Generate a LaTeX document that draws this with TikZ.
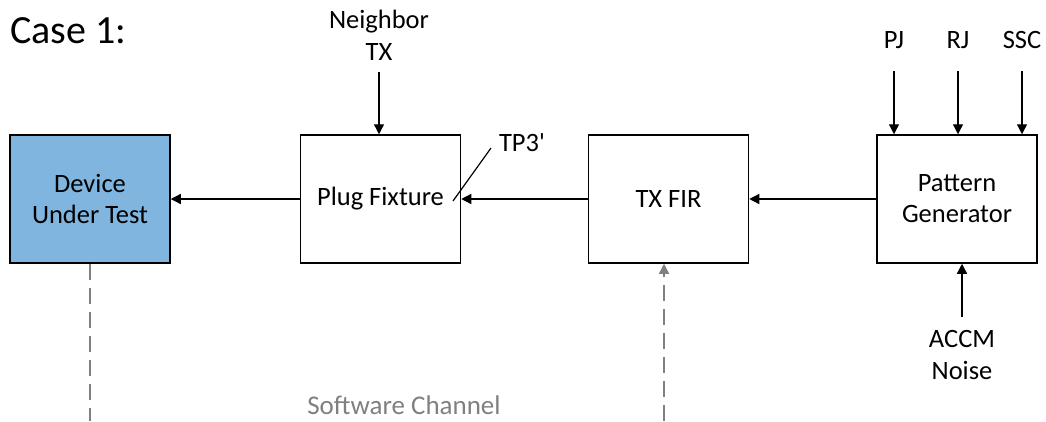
\documentclass[tikz,border=0pt]{standalone}
\usepackage{fontspec}
\setmainfont{Carlito}
\usetikzlibrary{arrows.meta}
\definecolor{dutblue}{RGB}{127,181,222}
\begin{document}
\begin{tikzpicture}[x=1pt,y=-1pt,
 box/.style={draw, line width=1.5pt, minimum width=160pt, minimum height=128pt, inner sep=0pt, font=\fontsize{26.5}{31}\selectfont, align=center},
 lbl/.style={font=\fontsize{26.5}{32}\selectfont, align=center, inner sep=0pt},
 arr/.style={-{Triangle[length=10pt,width=10pt]}, line width=1.3pt},
 dsh/.style={draw=gray, line width=1.3pt, dash pattern=on 16pt off 8pt}]
\useasboundingbox (0,0) rectangle (1046,421);
\node[anchor=base west, inner sep=0pt, font=\fontsize{40}{48}\selectfont] (title) at (10,43) {Case 1:};
\node[box, fill=dutblue] (dut) at (90,199) {Device\\Under Test};
\node[box] (pf) at (380.5,199) {Plug Fixture};
\node[box] (fir) at (668.5,199) {TX FIR};
\node[box] (pg) at (957,199) {Pattern\\Generator};
% inputs
\node[lbl, anchor=south] (ntx) at (379,61) {Neighbor\\TX};
\node[lbl, anchor=base] (pj) at (894,48) {PJ};
\node[lbl, anchor=base] (rj) at (958,48) {RJ};
\node[lbl, anchor=base] (ssc) at (1022,48) {SSC};
\node[lbl, anchor=north] (accm) at (962,330) {ACCM\\Noise};
\coordinate (ntxs) at (379,72);
\coordinate (pjs) at (894,71);
\coordinate (rjs) at (958,71);
\coordinate (sscs) at (1022,71);
\coordinate (accms) at (962,317);
\draw[arr] (ntxs) -- (ntxs |- pf.north);
\draw[arr] (pjs) -- (pjs |- pg.north);
\draw[arr] (rjs) -- (rjs |- pg.north);
\draw[arr] (sscs) -- (sscs |- pg.north);
\draw[arr] (accms) -- (accms |- pg.south);
% chain
\draw[arr] (pg.west) -- (fir.east);
\draw[arr] (fir.west) -- (pf.east);
\draw[arr] (pf.west) -- (dut.east);
% TP3'
\node[lbl] (tp3) at (522,143) {TP3\textquotesingle};
\coordinate (tpa) at (491,148);
\coordinate (tpb) at (453,201);
\draw[line width=1.2pt] (tpa) -- (tpb);
% software channel
\node[lbl, text=gray, font=\fontsize{27}{32}\selectfont] (sw) at (404,405) {Software Channel};
\coordinate (dutb) at (90,421);
\coordinate (firb) at (664,421);
\draw[dsh] (dut.south) -- (dutb);
\draw[dsh, -{Triangle[length=10pt,width=10pt]}] (firb) -- (firb |- fir.south);
\end{tikzpicture}
\end{document}
